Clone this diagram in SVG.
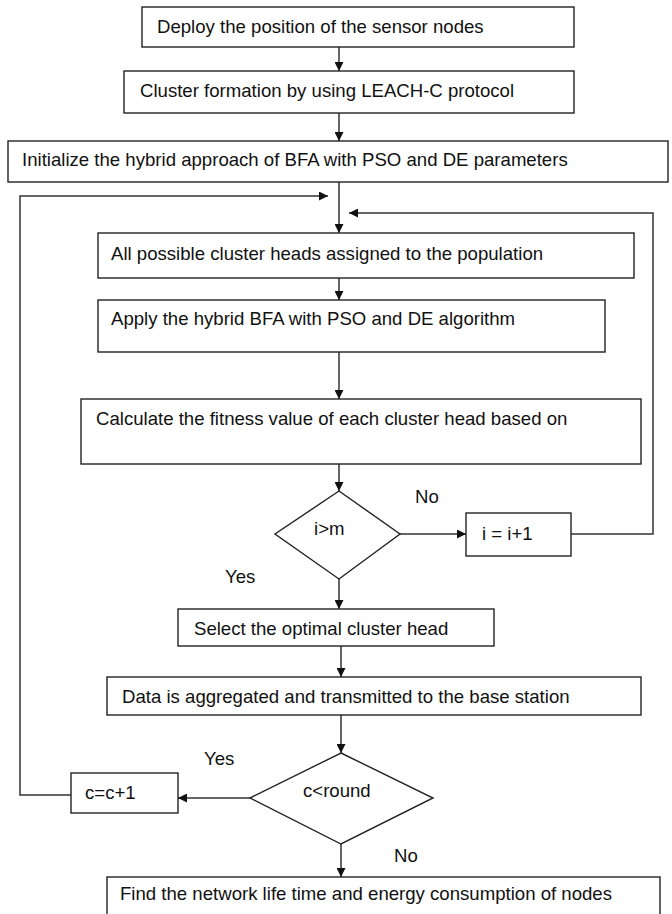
<svg xmlns="http://www.w3.org/2000/svg" width="672" height="914" viewBox="0 0 672 914">
<style>
.box{fill:#fff;stroke:#222;stroke-width:1.4}
.t{font-family:"Liberation Sans",Arial,sans-serif;font-size:18.6px;fill:#111}
.c{fill:none;stroke:#333;stroke-width:1.5}
</style>
<defs>
<marker id="ah" viewBox="0 0 10 10" refX="10" refY="5" markerWidth="6" markerHeight="6" markerUnits="strokeWidth" orient="auto">
<path d="M0,0 L10,5 L0,10 Z" fill="#111"/>
</marker>
</defs>
<rect width="672" height="914" fill="#fff"/>
<g id="connectors">
<path class="c" d="M339,47 V71" marker-end="url(#ah)"/>
<path class="c" d="M339,113 V141" marker-end="url(#ah)"/>
<path class="c" d="M339,182 V233" marker-end="url(#ah)"/>
<path class="c" d="M71,795 H20 V196 H328" marker-end="url(#ah)"/>
<path class="c" d="M571,534 H653 V213 H349" marker-end="url(#ah)"/>
<path class="c" d="M339,278 V300" marker-end="url(#ah)"/>
<path class="c" d="M339,352 V399" marker-end="url(#ah)"/>
<path class="c" d="M339,464 V491" marker-end="url(#ah)"/>
<path class="c" d="M400,534 H466" marker-end="url(#ah)"/>
<path class="c" d="M339,579 V609" marker-end="url(#ah)"/>
<path class="c" d="M341,646 V677" marker-end="url(#ah)"/>
<path class="c" d="M341,715 V753" marker-end="url(#ah)"/>
<path class="c" d="M250,798 H178" marker-end="url(#ah)"/>
<path class="c" d="M341,844 V877" marker-end="url(#ah)"/>
</g>
<g id="n1"><rect class="box" x="142" y="7" width="432" height="40"/><text class="t" x="157" y="33">Deploy the position of the sensor nodes</text></g>
<g id="n2"><rect class="box" x="124" y="71" width="450" height="42"/><text class="t" x="140" y="97">Cluster formation by using LEACH-C protocol</text></g>
<g id="n3"><rect class="box" x="8" y="141" width="660" height="41"/><text class="t" x="22" y="166">Initialize the hybrid approach of BFA with PSO and DE parameters</text></g>
<g id="n4"><rect class="box" x="98" y="233" width="536" height="45"/><text class="t" x="111" y="260">All possible cluster heads assigned to the population</text></g>
<g id="n5"><rect class="box" x="98" y="300" width="507" height="52"/><text class="t" x="111" y="325">Apply the hybrid BFA with PSO and DE algorithm</text></g>
<g id="n6"><rect class="box" x="81" y="399" width="560" height="65"/><text class="t" x="96" y="425">Calculate the fitness value of each cluster head based on</text></g>
<g id="d1"><polygon class="box" points="339,491 400,534 339,579 275,534"/><text class="t" x="314" y="535">i&gt;m</text></g>
<g id="lbl-no1"><text class="t" x="415" y="503">No</text></g>
<g id="n7"><rect class="box" x="466" y="513" width="105" height="43"/><text class="t" x="482" y="540">i = i+1</text></g>
<g id="lbl-yes1"><text class="t" x="225" y="583">Yes</text></g>
<g id="n8"><rect class="box" x="178" y="609" width="316" height="37"/><text class="t" x="194" y="635">Select the optimal cluster head</text></g>
<g id="n9"><rect class="box" x="107" y="677" width="534" height="38"/><text class="t" x="122" y="703">Data is aggregated and transmitted to the base station</text></g>
<g id="lbl-yes2"><text class="t" x="204" y="765">Yes</text></g>
<g id="d2"><polygon class="box" points="341,753 433,798 341,844 250,798"/><text class="t" x="303" y="797">c&lt;round</text></g>
<g id="n10"><rect class="box" x="71" y="773" width="107" height="40"/><text class="t" x="85" y="799">c=c+1</text></g>
<g id="lbl-no2"><text class="t" x="394" y="862">No</text></g>
<g id="n11"><rect class="box" x="107" y="877" width="553" height="60"/><text class="t" x="120" y="900">Find the network life time and energy consumption of nodes</text></g>
</svg>
